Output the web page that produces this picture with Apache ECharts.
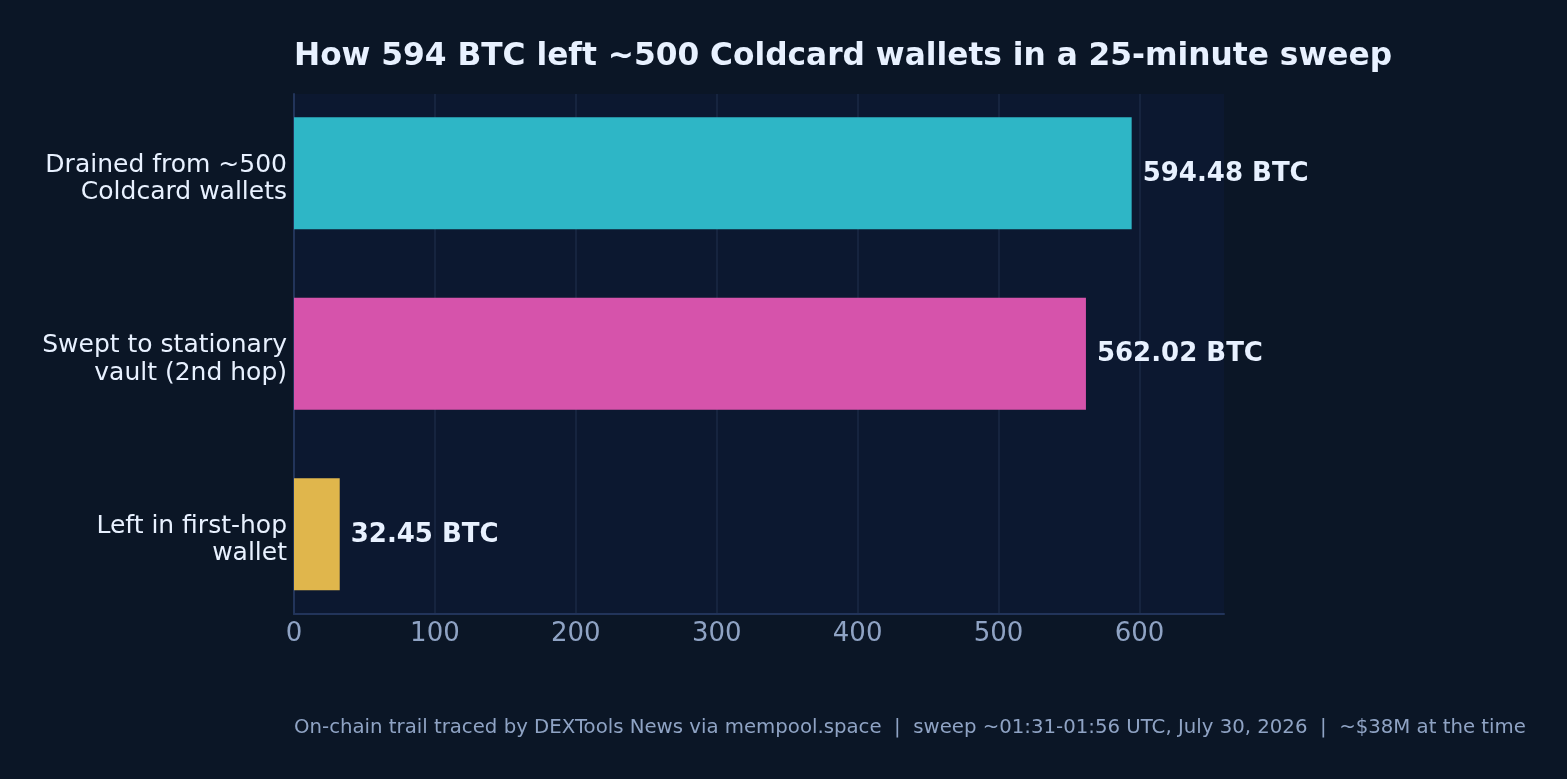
<!DOCTYPE html>
<html><head><meta charset="utf-8">
<style>html,body{margin:0;padding:0;background:#0b1626}#c{width:1567px;height:779px}</style>
<script src="https://cdn.jsdelivr.net/npm/echarts@6/dist/echarts.min.js"></script>
</head><body><div id="c"></div>
<script>
const categories = ['Drained from ~500\nColdcard wallets', 'Swept to stationary\nvault (2nd hop)', 'Left in first-hop\nwallet'];
const values = [594.48, 562.02, 32.45];
const barColors = ['#2eb6c6', '#d653ab', '#e0b64c'];
const titleText = 'How 594 BTC left ~500 Coldcard wallets in a 25-minute sweep';
const footerText = 'On-chain trail traced by DEXTools News via mempool.space  |  sweep ~01:31-01:56 UTC, July 30, 2026  |  ~$38M at the time';
const font = '"DejaVu Sans"';
const chart = echarts.init(document.getElementById('c'), null, {renderer:'canvas'});
const xScale = {type:'value', min:0, max:660, interval:100};
chart.setOption({
  backgroundColor:'#0b1626',
  animation:false,
  title:[
    {text:titleText, left:289, top:36, textStyle:{color:'#e8f1ff', fontFamily:font, fontWeight:'bold', fontSize:31.25}},
    {text:footerText, left:289, top:713, textStyle:{color:'#8fa3c4', fontFamily:font, fontWeight:'normal', fontSize:19.73}}
  ],
  grid:[
    {left:294, top:94, width:930, height:520, show:true, backgroundColor:'#0c1830', borderWidth:0},
    {left:294, top:83, width:930, height:541.5},
    {left:294, top:88.5, width:930, height:541.5}
  ],
  xAxis:[
    Object.assign({gridIndex:0, axisLine:{show:true, lineStyle:{color:'#22345a', width:2}}, axisTick:{show:false},
      axisLabel:{color:'#8fa3c4', fontFamily:font, fontSize:26, margin:7, hideOverlap:false, showMaxLabel:false},
      splitLine:{show:true, showMaxLine:false, lineStyle:{color:'#1a2845', width:1.5}}}, xScale),
    Object.assign({gridIndex:1, show:false, splitLine:{show:false}}, xScale),
    Object.assign({gridIndex:2, show:false, splitLine:{show:false}}, xScale)
  ],
  yAxis:[
    {type:'value', gridIndex:0, min:0, max:1, axisLine:{show:true, lineStyle:{color:'#22345a', width:2}}, axisTick:{show:false}, axisLabel:{show:false}, splitLine:{show:false}},
    {type:'category', gridIndex:1, inverse:true, data:categories, axisLine:{show:false}, axisTick:{show:false}, axisLabel:{show:false}},
    {type:'category', gridIndex:2, inverse:true, data:categories, axisLine:{show:false}, axisTick:{show:false},
      axisLabel:{color:'#e8f1ff', fontFamily:font, fontSize:25, lineHeight:27.5, margin:7, align:'right'}}
  ],
  series:[{
    type:'bar', xAxisIndex:1, yAxisIndex:1, barWidth:112, z:3,
    data:values.map((v,i)=>({value:v, itemStyle:{color:barColors[i]}})),
    label:{show:true, position:'right', distance:11, offset:[0,0.5], formatter:p=>p.value.toFixed(2)+' BTC',
      color:'#e8f1ff', fontFamily:font, fontWeight:'bold', fontSize:26}
  }]
});
</script></body></html>
